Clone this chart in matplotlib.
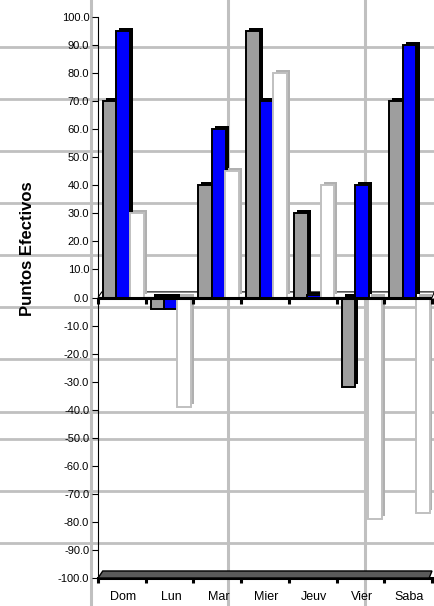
import matplotlib
matplotlib.use('Agg')
import matplotlib.pyplot as plt
import matplotlib.patheffects as pe
from matplotlib.patches import Polygon
import numpy as np

# ---- data ----
categories = ['Dom', 'Lun', 'Mar', 'Mier', 'Jeuv', 'Vier', 'Saba']
serie_gris = [70, -4, 40, 95, 30, -32, 70]
serie_azul = [95, -4, 60, 70, 1, 40, 90]
serie_blanca = [30, -39, 45, 80, 40, -79, -77]
y_ticks = [100, 90, 80, 70, 60, 50, 40, 30, 20, 10, 0,
           -10, -20, -30, -40, -50, -60, -70, -80, -90, -100]
y_tick_labels = ['%.1f' % v for v in y_ticks]
y_label = 'Puntos Efectivos'

# back-wall gridlines of the 3D chart (in value units)
wall_grid_y = [89.3, 70.8, 52.2, 33.7, 15.2, -3.4, -21.9, -40.7, -50.6, -69.0, -87.5]
wall_grid_x = [-0.647, 2.225, 5.097]

plt.rcParams['font.family'] = ['Liberation Sans', 'DejaVu Sans']
plt.rcParams['axes.unicode_minus'] = False

fig = plt.figure(figsize=(4.35, 6.06), dpi=100)
ax = fig.add_axes([98 / 435, 28 / 606, 334 / 435, 561 / 606])
ax.set_facecolor('none')
ax.set_xlim(-0.5, 6.5)
ax.set_ylim(-100, 100)

grid_col = '#c0c0c0'
for v in wall_grid_y:
    ax.axhline(v, xmin=-0.3, xmax=1.02, color=grid_col, lw=2.0, zorder=0, clip_on=False)
for v in wall_grid_x:
    ax.axvline(v, ymin=-0.06, ymax=1.04, color=grid_col, lw=2.2, zorder=0, clip_on=False)

x = np.arange(len(categories))
width = 0.29
sh = 2.2

def shadow(col):
    return [pe.SimplePatchShadow(offset=(sh, sh), shadow_rgbFace=col, alpha=1.0), pe.Normal()]

# floor at zero
ax.add_patch(Polygon([(-0.5, 0), (6.5, 0), (6.55, 2.0), (-0.42, 2.0)], closed=True,
                     facecolor='white', edgecolor='black', lw=0.8, zorder=2, clip_on=False))

ax.bar(x - 0.25, serie_gris, width, color='#9e9e9e', edgecolor='black', lw=1.4,
       zorder=3, path_effects=shadow('black'))
ax.bar(x + 0.03, serie_azul, width, color='#0000ff', edgecolor='black', lw=1.4,
       zorder=3, path_effects=shadow('black'))
ax.bar(x + 0.31, serie_blanca, width, color='white', edgecolor='#c0c0c0', lw=1.4,
       zorder=3, path_effects=shadow('#b0b0b0'))

# zero line with ticks
ax.axhline(0, color='black', lw=2.2, zorder=5)
bounds = np.arange(-0.5, 7.0, 1.0)
ax.vlines(bounds, -2.3, 0, color='black', lw=2.2, zorder=5, clip_on=False)

# bottom floor
ax.add_patch(Polygon([(-0.5, -100), (6.44, -100), (6.5, -97.5), (-0.4, -97.5)], closed=True,
                     facecolor='#5a5a5a', edgecolor='black', lw=1.0, zorder=5, clip_on=False))

# axes styling
for s in ['top', 'right']:
    ax.spines[s].set_visible(False)
ax.spines['left'].set_linewidth(0.8)
ax.spines['bottom'].set_linewidth(2.2)

ax.set_yticks(y_ticks)
ax.set_yticklabels(y_tick_labels)
ax.tick_params(axis='y', direction='out', length=4.3, width=0.8, pad=2, labelsize=8)

ax.set_xticks(x + 0.03)
ax.set_xticklabels(categories)
ax.tick_params(axis='x', which='major', length=0, pad=9.5, labelsize=9)
ax.set_xticks(bounds, minor=True)
ax.tick_params(axis='x', which='minor', direction='out', length=3.8, width=2.2, color='black')

fig.text(28 / 435, 1 - 249 / 606, y_label, rotation=90, ha='center', va='center',
         fontsize=12, fontweight='bold')

fig.savefig('out.png', dpi=100)
